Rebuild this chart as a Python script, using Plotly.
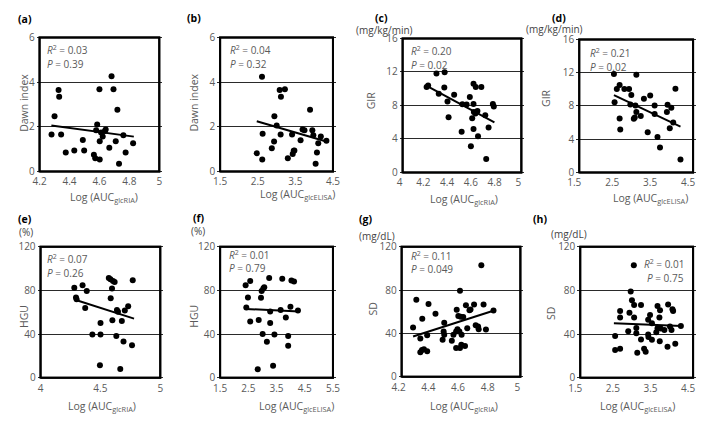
import plotly.graph_objects as go

# The page adds an 8px body margin around the figure; the figure is sized so that
# figure + margins fill the 709x428 window exactly.
PAGE_W, PAGE_H = 709, 428
OFF = 8
FW, FH = PAGE_W - 2 * OFF, PAGE_H - 2 * OFF

# ---------------- data ----------------
a_x = [4.28, 4.30, 4.327, 4.331, 4.344, 4.375, 4.432, 4.489, 4.498, 4.563, 4.572, 4.585, 4.578, 4.60, 4.602,
       4.602, 4.611, 4.622, 4.637, 4.642, 4.666, 4.681, 4.694, 4.709, 4.72, 4.731, 4.76, 4.775, 4.825]
a_y = [1.66, 2.47, 3.65, 3.35, 1.65, 0.85, 0.94, 1.41, 0.94, 0.75, 0.59, 2.10, 1.84, 3.68, 0.53,
       1.35, 1.74, 1.56, 1.81, 1.88, 1.06, 4.26, 3.68, 1.35, 2.76, 0.34, 1.62, 0.85, 1.26]
a_fit_x = [4.279, 4.83]
a_fit_y = [2.06, 1.56]

b_x = [2.474, 2.613, 2.63, 2.62, 2.874, 2.935, 2.943, 3.004, 3.083, 3.109, 3.117, 3.222, 3.30, 3.413,
       3.43, 3.457, 3.474, 3.639, 3.691, 3.743, 3.891, 3.952, 3.978, 4.039, 4.074, 4.109, 4.178, 4.326]
b_y = [0.82, 4.24, 1.69, 0.53, 1.04, 1.34, 2.47, 2.06, 3.65, 1.66, 3.35, 3.68, 0.59, 1.66,
       0.78, 0.93, 0.94, 1.40, 1.88, 1.84, 2.76, 1.85, 1.62, 0.34, 0.85, 1.26, 1.56, 1.37]
b_fit_x = [2.474, 4.37]
b_fit_y = [2.25, 1.32]

c_x = [4.202, 4.215, 4.285, 4.354, 4.304, 4.351, 4.378, 4.434, 4.387, 4.497, 4.503, 4.539, 4.566, 4.597,
       4.616, 4.663, 4.597, 4.60, 4.613, 4.63, 4.586, 4.597, 4.635, 4.575, 4.696, 4.724, 4.76, 4.768, 4.704]
c_y = [10.19, 10.38, 11.80, 11.96, 9.40, 10.15, 8.46, 9.28, 6.60, 4.87, 8.14, 8.10, 9.00, 10.58,
       10.19, 10.19, 8.17, 7.23, 7.03, 7.35, 6.48, 5.18, 4.31, 3.13, 6.84, 5.38, 8.17, 7.86, 1.59]
c_fit_x = [4.207, 4.773]
c_fit_y = [10.31, 5.97]

d_x = [2.414, 3.005, 2.49, 2.564, 2.689, 2.813, 2.872, 2.431, 2.847, 2.98, 3.005, 2.938, 2.963, 3.121,
       3.204, 3.37, 3.487, 3.487, 2.564, 2.581, 3.304, 3.562, 3.628, 3.828, 3.927, 3.81, 4.035, 3.977,
       3.886, 4.168]
d_y = [11.84, 11.76, 10.04, 10.51, 10.04, 10.04, 9.30, 8.44, 8.16, 8.05, 7.27, 6.45, 6.60, 6.80,
       8.87, 9.26, 8.05, 7.03, 6.48, 5.16, 4.84, 4.26, 3.01, 8.13, 7.77, 7.27, 10.08, 6.02,
       5.31, 1.56]
d_fit_x = [2.414, 4.168]
d_fit_y = [9.30, 5.51]

e_x = [4.282, 4.296, 4.301, 4.351, 4.386, 4.373, 4.433, 4.501, 4.501, 4.496, 4.570, 4.584, 4.605, 4.619,
       4.597, 4.586, 4.60, 4.638, 4.647, 4.633, 4.666, 4.679, 4.693, 4.704, 4.732, 4.764, 4.77]
e_y = [82.4, 73.5, 72.0, 84.8, 79.5, 64.0, 39.6, 50.3, 39.6, 11.6, 91.4, 90.2, 88.7, 87.8,
       81.8, 72.9, 52.7, 62.2, 60.4, 38.4, 8.0, 52.1, 33.3, 61.6, 65.5, 29.8, 89.3]
e_fit_x = [4.282, 4.781]
e_fit_y = [71.7, 54.2]

f_x = [2.404, 2.567, 2.486, 2.428, 2.567, 2.833, 2.868, 2.972, 2.949, 3.03, 3.065, 3.007, 3.158, 3.239,
       3.274, 3.274, 3.378, 3.425, 3.645, 3.703, 3.83, 3.912, 3.912, 3.993, 4.028, 4.12, 4.259]
f_y = [84.7, 88.6, 73.6, 64.3, 51.7, 7.8, 52.9, 79.6, 73.3, 81.7, 82.9, 40.2, 33.0, 91.3,
       60.7, 50.2, 11.1, 39.6, 62.2, 90.7, 55.3, 38.4, 29.4, 65.2, 89.2, 88.3, 61.6]
f_fit_x = [2.404, 4.306]
f_fit_y = [63.1, 60.7]

g_x = [4.737, 4.593, 4.299, 4.381, 4.339, 4.428, 4.277, 4.487, 4.372, 4.326, 4.337, 4.35, 4.372, 4.326,
       4.483, 4.487, 4.476, 4.538, 4.567, 4.576, 4.589, 4.571, 4.582, 4.598, 4.615, 4.604, 4.549, 4.602,
       4.627, 4.567, 4.593, 4.633, 4.657, 4.664, 4.688, 4.642, 4.699, 4.715, 4.719, 4.752, 4.768, 4.819]
g_y = [103.0, 79.4, 71.2, 67.3, 53.6, 58.2, 45.5, 50.0, 38.5, 35.5, 24.8, 25.5, 23.6, 22.7,
       41.8, 38.8, 34.2, 33.3, 41.8, 43.9, 41.8, 61.8, 56.1, 55.5, 55.2, 38.8, 38.8, 29.7,
       28.5, 26.7, 26.7, 66.1, 61.5, 62.1, 66.7, 44.8, 47.6, 46.4, 43.9, 66.7, 43.6, 61.2]
g_fit_x = [4.277, 4.823]
g_fit_y = [37.3, 61.2]

h_x = [2.925, 2.842, 2.875, 2.933, 3.116, 2.56, 2.56, 2.809, 2.933, 2.428, 2.428, 2.56, 2.776, 2.991,
       2.991, 3.116, 3.016, 3.198, 3.24, 3.306, 3.356, 3.406, 3.306, 3.314, 3.406, 3.555, 3.621, 3.605,
       3.522, 3.555, 3.614, 3.638, 3.737, 3.836, 3.952, 3.969, 3.82, 3.886, 3.927, 4.027, 4.176]
h_y = [103.0, 79.1, 71.0, 66.6, 66.6, 61.2, 55.2, 59.7, 55.2, 38.2, 25.4, 26.6, 42.7, 45.7,
       40.9, 35.2, 23.0, 26.6, 23.9, 53.1, 57.6, 49.9, 39.7, 37.3, 34.9, 65.7, 61.8, 55.2,
       41.8, 45.4, 33.4, 45.1, 43.9, 67.2, 62.7, 61.2, 28.4, 46.9, 43.9, 31.3, 47.5]
h_fit_x = [2.395, 4.193]
h_fit_y = [49.9, 47.5]

panel_letters = ["(a)", "(b)", "(c)", "(d)", "(e)", "(f)", "(g)", "(h)"]
y_titles = ["Dawn index", "Dawn index", "GIR", "GIR", "HGU", "HGU", "SD", "SD"]
x_titles = ["Log (AUC<sub>glcRIA</sub>)", "Log (AUC<sub>glcELISA</sub>)",
            "Log (AUC<sub>glcRIA</sub>)", "Log (AUC<sub>glcELISA</sub>)",
            "Log (AUC<sub>glcRIA</sub>)", "Log (AUC<sub>glcELISA</sub>)",
            "Log (AUC<sub>glcRIA</sub>)", "Log (AUC<sub>glcELISA</sub>)"]
units = ["", "", "(mg/kg/min)", "(mg/kg/min)", "(%)", "(%)", "(mg/dL)", "(mg/dL)"]
r2_text = ["0.03", "0.04", "0.20", "0.21", "0.07", "0.01", "0.11", "0.01"]
p_text = ["0.39", "0.32", "0.02", "0.02", "0.26", "0.79", "0.049", "0.75"]

x_ranges = [[4.2, 5], [1.5, 4.5], [4, 5], [1.5, 4.5], [4, 5], [1.5, 5.5], [4.2, 5], [1.5, 4.5]]
x_dticks = [0.2, 1, 0.2, 1, 0.5, 1, 0.2, 1]
y_ranges = [[0, 6], [0, 6], [0, 16], [0, 16], [0, 120], [0, 120], [0, 120], [0, 120]]
y_dticks = [2, 2, 4, 4, 40, 40, 40, 40]

xs = [a_x, b_x, c_x, d_x, e_x, f_x, g_x, h_x]
ys = [a_y, b_y, c_y, d_y, e_y, f_y, g_y, h_y]
fxs = [a_fit_x, b_fit_x, c_fit_x, d_fit_x, e_fit_x, f_fit_x, g_fit_x, h_fit_x]
fys = [a_fit_y, b_fit_y, c_fit_y, d_fit_y, e_fit_y, f_fit_y, g_fit_y, h_fit_y]

# ---------------- layout geometry (page pixels) ----------------
boxes = [  # left, right, top, bottom of each frame
    (31, 153, 33, 170), (215, 330, 33, 170), (401, 522, 34, 171), (581, 697, 35, 171),
    (32, 154, 247, 381), (215, 330, 247, 381), (400, 521, 247, 380), (582, 697, 247, 381),
]
PAD = 3  # the plotting area extends a few pixels beyond the frame so the frame is drawn fully inside
xlabel_shift = [0, 0, -3, -5, 0, 0, -3, -5]
letter_pos = [(16, 14), (188, 13), (379, 13), (560, 13), (16, 219), (193, 218), (363, 219), (541, 219)]
unit_pos = [None, None, (383, 25), (556, 24), (17, 232), (192, 231), (375, 236), (571, 234)]
ytitle_pos = [(15, 100), (188, 100), (369, 97), (547, 95), (15, 318), (189, 318), (371, 311), (552, 315)]
xtitle_pos = [(97, 197), (294, 194), (464, 199), (654, 198), (95, None), (293, None), (464, None), (640, None)]
stat_pos = [(37, 46), (223, 46), (408, 47), (590, 49), (37, 260), (222, 255), (407, 256), (690, 265)]
stat_anchor = ["left"] * 7 + ["right"]

FONT = "Open Sans"
GRAY = "#5a5a5a"


def px(x):
    return min(1.0, max(0.0, (x - OFF) / FW))


def py(y):
    return min(1.0, max(0.0, 1 - (y - OFF) / FH))


fig = go.Figure()
layout = dict(
    width=FW, height=FH, margin=dict(l=0, r=0, t=0, b=0, pad=0), autosize=False,
    paper_bgcolor="white", plot_bgcolor="white", showlegend=False,
    font=dict(family=FONT, size=10, color=GRAY),
)
annotations = []
shapes = []

for i in range(8):
    n = "" if i == 0 else str(i + 1)
    xa, ya = "x" + n, "y" + n
    l, r, t, b = boxes[i]
    x0, x1 = x_ranges[i]
    y0, y1 = y_ranges[i]
    pl = min(PAD, l - OFF)
    pr = min(PAD, OFF + FW - r)
    pt = min(PAD, t - OFF)
    pb = min(PAD, OFF + FH - b)
    sx_ = (x1 - x0) / (r - l)
    sy_ = (y1 - y0) / (b - t)
    layout["xaxis" + n] = dict(
        domain=[px(l - pl), px(r + pr)], anchor=ya, range=[x0 - pl * sx_, x1 + pr * sx_],
        tick0=x0, dtick=x_dticks[i],
        showgrid=False, zeroline=False, showline=False,
        ticks="", tickfont=dict(family=FONT, size=10, color=GRAY), ticklabelstandoff=0,
        ticklabelshift=xlabel_shift[i],
    )
    layout["yaxis" + n] = dict(
        domain=[py(b + pb), py(t - pt)], anchor=xa, range=[y0 - pb * sy_, y1 + pt * sy_],
        tick0=y0, dtick=y_dticks[i],
        showgrid=True, gridcolor="#2a2a2a", gridwidth=1, zeroline=False, showline=False,
        ticks="", tickfont=dict(family=FONT, size=10, color=GRAY), ticklabelstandoff=1,
    )
    # plot-area frame along the axis ranges
    fig.add_trace(go.Scatter(x=[x0, x1, x1, x0, x0], y=[y0, y0, y1, y1, y0], mode="lines",
                             xaxis=xa, yaxis=ya, hoverinfo="skip",
                             line=dict(color="#000000", width=2)))
    shapes.append(dict(type="rect", xref=xa, yref=ya, x0=x0, x1=x1, y0=y0, y1=y1,
                       line=dict(color="#000000", width=2), fillcolor="rgba(0,0,0,0)", layer="above"))
    fig.add_trace(go.Scatter(x=xs[i], y=ys[i], mode="markers", xaxis=xa, yaxis=ya,
                             marker=dict(color="black", size=6), cliponaxis=False))
    fig.add_trace(go.Scatter(x=fxs[i], y=fys[i], mode="lines", xaxis=xa, yaxis=ya,
                             line=dict(color="black", width=2)))

    base = dict(xref="paper", yref="paper", showarrow=False, xanchor="center", yanchor="middle")
    lx, ly = letter_pos[i]
    annotations.append(dict(base, text="<b>" + panel_letters[i] + "</b>", x=px(lx), y=py(ly),
                            font=dict(size=10.5, color="black", family=FONT)))
    if unit_pos[i]:
        ux, uy = unit_pos[i]
        annotations.append(dict(base, text=units[i], x=px(ux), y=py(uy),
                                font=dict(size=10, color="#444", family=FONT)))
    tx, ty = ytitle_pos[i]
    annotations.append(dict(base, text=y_titles[i], x=px(tx), y=py(ty), textangle=-90,
                            font=dict(size=10.5, color=GRAY, family=FONT)))
    tx, ty = xtitle_pos[i]
    if ty is None:
        annotations.append(dict(base, text=x_titles[i], x=px(tx), y=0, yanchor="bottom",
                                font=dict(size=10.5, color=GRAY, family=FONT)))
    else:
        annotations.append(dict(base, text=x_titles[i], x=px(tx), y=py(ty),
                                font=dict(size=10.5, color=GRAY, family=FONT)))
    stx, sty = stat_pos[i]
    annotations.append(dict(base, text="<i>R</i><sup>2</sup> = " + r2_text[i], x=px(stx), y=py(sty),
                            xanchor=stat_anchor[i], font=dict(size=10, color=GRAY, family=FONT)))
    annotations.append(dict(base, text="<i>P</i> = " + p_text[i], x=px(stx), y=py(sty + 14),
                            xanchor=stat_anchor[i], font=dict(size=10, color=GRAY, family=FONT)))

layout["annotations"] = annotations
layout["shapes"] = shapes
fig.update_layout(**layout)
fig.write_html("out.html", config={"displayModeBar": False, "staticPlot": True})
